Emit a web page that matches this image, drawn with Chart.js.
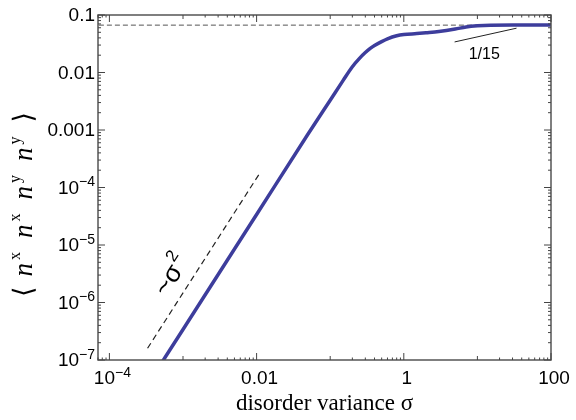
<!DOCTYPE html>
<html>
<head>
<meta charset="utf-8">
<script src="https://cdn.jsdelivr.net/npm/chart.js@4/dist/chart.umd.min.js"></script>
<style>
  html, body { margin: 0; padding: 0; background: #fff; }
  #wrap { width: 576px; height: 420px; }
</style>
</head>
<body>
<div id="wrap"><canvas id="c"></canvas></div>
<script>
// disorder variance sigma vs <n^x n^x n^y n^y>
const sigma = [5e-4, 1e-3, 1e-2, 0.05, 0.1, 0.15, 0.2, 0.25, 0.3, 0.35, 0.4, 0.5, 0.6, 0.8, 1, 1.5, 2, 3, 5, 7, 10, 15, 30, 100];
const corr  = [8.5e-8, 3.4e-7, 3.4e-5, 8.5e-4, 3.3e-3, 7.3e-3, 0.0126, 0.0176, 0.0222, 0.0262, 0.0295, 0.0345, 0.0385, 0.0435, 0.0458, 0.0475, 0.049, 0.0515, 0.057, 0.062, 0.065, 0.0665, 0.0667, 0.0667];

// ~sigma^2 guide line and the 1/15 limit
const guideX = [3.3e-4, 0.0108];
const guideY = [1.6e-7, 1.7e-4];
const limitValue = 1 / 15;
const leaderX = [4.9, 34];
const leaderY = [0.034, 0.059];

// axes
const xRange = [7.2e-5, 100];
const yRange = [1e-7, 0.1];
const xMajor = [1e-4, 1e-2, 1, 100];
const xMajorLabels = [['10', '−4'], ['0.01', ''], ['1', ''], ['100', '']];
const yMajor = [1e-7, 1e-6, 1e-5, 1e-4, 1e-3, 1e-2, 1e-1];
const yMajorLabels = [['10', '−7'], ['10', '−6'], ['10', '−5'], ['10', '−4'], ['0.001', ''], ['0.01', ''], ['0.1', '']];

const pts = (xs, ys) => xs.map((x, i) => ({ x: x, y: ys[i] }));

const sans = '"Liberation Sans", Arial, sans-serif';
const serif = '"Liberation Serif", "Times New Roman", serif';

function drawPowLabel(ctx, base, exp, x, y, align) {
    ctx.font = '19px ' + sans;
    const wb = ctx.measureText(base).width;
    ctx.font = '14px ' + sans;
    const we = exp ? ctx.measureText(exp).width : 0;
    const total = wb + we;
    let left = align === 'right' ? x - total : x - total / 2;
    ctx.textAlign = 'left';
    ctx.textBaseline = 'middle';
    ctx.font = '19px ' + sans;
    ctx.fillText(base, left, y);
    if (exp) {
        ctx.font = '14px ' + sans;
        ctx.fillText(exp, left + wb, y - 6);
    }
}

const framePlugin = {
    id: 'frame',
    afterDatasetsDraw(chart) {
        const ctx = chart.ctx;
        const xs = chart.scales.x, ys = chart.scales.y;
        const a = chart.chartArea;
        ctx.save();

        // frame
        ctx.strokeStyle = '#555';
        ctx.lineWidth = 1.5;
        ctx.strokeRect(a.left, a.top, a.right - a.left, a.bottom - a.top);

        // ticks, pointing inward, on all sides
        ctx.lineWidth = 1;
        ctx.strokeStyle = '#444';
        const tickX = (v, len) => {
            const p = xs.getPixelForValue(v);
            if (p < a.left - 0.5 || p > a.right + 0.5) return;
            ctx.beginPath();
            ctx.moveTo(p, a.bottom); ctx.lineTo(p, a.bottom - len);
            ctx.moveTo(p, a.top); ctx.lineTo(p, a.top + len);
            ctx.stroke();
        };
        const tickY = (v, len) => {
            const p = ys.getPixelForValue(v);
            if (p < a.top - 0.5 || p > a.bottom + 0.5) return;
            ctx.beginPath();
            ctx.moveTo(a.left, p); ctx.lineTo(a.left + len, p);
            ctx.moveTo(a.right, p); ctx.lineTo(a.right - len, p);
            ctx.stroke();
        };
        xMajor.forEach(v => {
            tickX(v, 7);
            for (let m = 1; m <= 9; m++) tickX(m * v / 10, m === 1 ? 4 : 2.5);
        });
        yMajor.forEach(v => {
            tickY(v, 7);
            for (let m = 2; m <= 9; m++) tickY(m * v / 10, 3);
        });

        // tick labels
        ctx.fillStyle = '#000';
        xMajor.forEach((v, i) => {
            drawPowLabel(ctx, xMajorLabels[i][0], xMajorLabels[i][1], xs.getPixelForValue(v) + 3, a.bottom + 19, 'center');
        });
        yMajor.forEach((v, i) => {
            drawPowLabel(ctx, yMajorLabels[i][0], yMajorLabels[i][1], a.left - 3, ys.getPixelForValue(v) + 1, 'right');
        });

        // axis titles
        ctx.font = '23px ' + serif;
        ctx.textAlign = 'center';
        ctx.textBaseline = 'middle';
        ctx.fillText('disorder variance σ', (a.left + a.right) / 2, a.bottom + 44);

        ctx.save();
        ctx.translate(25, (a.top + a.bottom) / 2 + 12);
        ctx.rotate(-Math.PI / 2);
        const parts = [['⟨', 'b'], ['n', 'i'], ['x', 's'], ['n', 'i'], ['x', 's'], ['n', 'i'], ['y', 's'], ['n', 'i'], ['y', 's'], ['⟩', 'b']];
        const fontFor = t => t === 'i' ? 'italic 27px ' + serif : t === 's' ? '16px ' + serif : '27px "DejaVu Serif", ' + serif;
        const gapAfter = t => t === 'i' ? 3 : t === 's' ? 14 : 10;
        let w = 0;
        parts.forEach(p => { ctx.font = fontFor(p[1]); w += ctx.measureText(p[0]).width + gapAfter(p[1]); });
        let cx = -w / 2;
        ctx.textAlign = 'left';
        parts.forEach(p => {
            ctx.font = fontFor(p[1]);
            ctx.fillText(p[0], cx, p[1] === 's' ? -9 : 0);
            cx += ctx.measureText(p[0]).width + gapAfter(p[1]);
        });
        ctx.restore();

        // annotations
        ctx.font = '16px ' + sans;
        ctx.textAlign = 'center';
        ctx.fillText('1/15', xs.getPixelForValue(12.4), ys.getPixelForValue(0.0202));

        ctx.save();
        ctx.translate(xs.getPixelForValue(6.9e-4), ys.getPixelForValue(2.77e-6));
        ctx.rotate(-57 * Math.PI / 180);
        ctx.font = '26px ' + sans;
        ctx.textAlign = 'left';
        const tw = ctx.measureText('~σ').width;
        ctx.fillText('~σ', -tw / 2 - 4, 0);
        ctx.font = '17px ' + sans;
        ctx.fillText('2', tw / 2 - 2, -10);
        ctx.restore();

        ctx.restore();
    }
};

new Chart(document.getElementById('c'), {
    type: 'line',
    data: {
        datasets: [
            {
                data: pts(sigma, corr),
                borderColor: '#3d3d9c',
                borderWidth: 3.5,
                pointRadius: 0,
                cubicInterpolationMode: 'monotone',
                fill: false
            },
            {
                data: pts(guideX, guideY),
                borderColor: '#222',
                borderWidth: 1.2,
                borderDash: [6, 4],
                pointRadius: 0
            },
            {
                data: pts(xRange, [limitValue, limitValue]),
                borderColor: '#555',
                borderWidth: 1,
                borderDash: [5, 3],
                pointRadius: 0
            },
            {
                data: pts(leaderX, leaderY),
                borderColor: '#222',
                borderWidth: 1,
                pointRadius: 0
            }
        ]
    },
    options: {
        responsive: true,
        maintainAspectRatio: false,
        animation: false,
        layout: { padding: { left: 98, right: 25, top: 15, bottom: 60 } },
        plugins: { legend: { display: false }, tooltip: { enabled: false } },
        scales: {
            x: { type: 'logarithmic', min: xRange[0], max: xRange[1], display: false },
            y: { type: 'logarithmic', min: yRange[0], max: yRange[1], display: false }
        }
    },
    plugins: [framePlugin]
});
</script>
</body>
</html>
